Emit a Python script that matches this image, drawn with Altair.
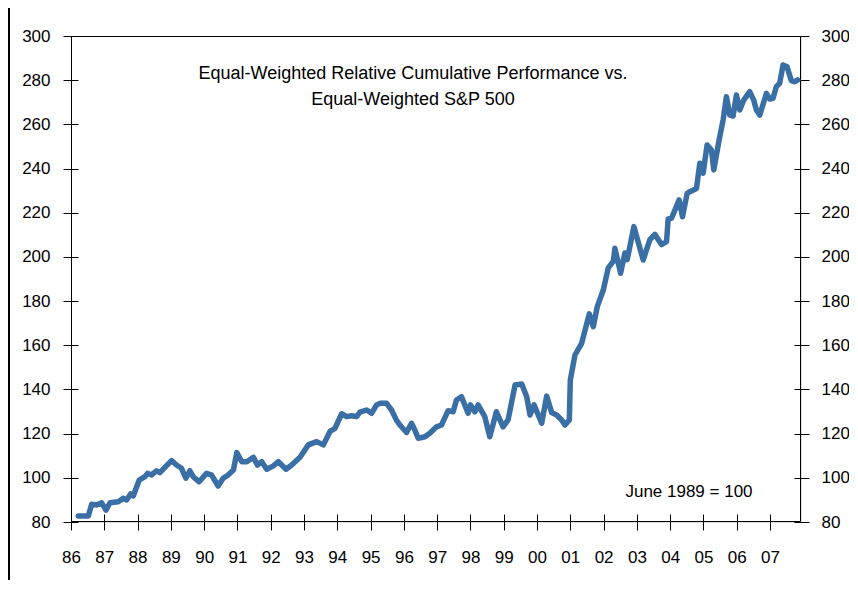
import altair as alt
import pandas as pd

# Decimal years and index values
years = [1986.22, 1986.52, 1986.62, 1986.77, 1986.92, 1987.05, 1987.17, 1987.42, 1987.57, 1987.67,
         1987.79, 1987.87, 1988.05, 1988.22, 1988.30, 1988.42, 1988.57, 1988.67, 1988.82, 1989.02,
         1989.17, 1989.32, 1989.45, 1989.57, 1989.67, 1989.85, 1990.07, 1990.22, 1990.42, 1990.57,
         1990.72, 1990.88, 1990.98, 1991.13, 1991.28, 1991.48, 1991.60, 1991.73, 1991.88, 1992.08,
         1992.23, 1992.33, 1992.46, 1992.63, 1992.88, 1993.13, 1993.38, 1993.58, 1993.78, 1993.93,
         1994.13, 1994.28, 1994.43, 1994.58, 1994.68, 1994.88, 1995.03, 1995.18, 1995.28, 1995.48,
         1995.63, 1995.78, 1995.88, 1996.08, 1996.23, 1996.33, 1996.43, 1996.63, 1996.78, 1996.98,
         1997.13, 1997.33, 1997.48, 1997.58, 1997.73, 1997.93, 1998.00, 1998.13, 1998.23, 1998.43,
         1998.58, 1998.78, 1998.98, 1999.13, 1999.34, 1999.54, 1999.69, 1999.79, 1999.91, 2000.04,
         2000.14, 2000.29, 2000.44, 2000.59, 2000.74, 2000.84, 2000.97, 2001.00, 2001.14, 2001.34,
         2001.57, 2001.69, 2001.81, 2001.99, 2002.14, 2002.29, 2002.34, 2002.51, 2002.64, 2002.71,
         2002.91, 2003.19, 2003.39, 2003.54, 2003.74, 2003.89, 2003.94, 2004.04, 2004.27, 2004.37,
         2004.51, 2004.59, 2004.79, 2004.89, 2004.99, 2005.11, 2005.24, 2005.31, 2005.47, 2005.59,
         2005.69, 2005.79, 2005.89, 2005.99, 2006.09, 2006.21, 2006.39, 2006.51, 2006.59, 2006.69,
         2006.89, 2006.99, 2007.09, 2007.19, 2007.29, 2007.39, 2007.51, 2007.64, 2007.73, 2007.83]
values = [82.7, 82.7, 88.0, 87.7, 88.7, 85.4, 88.7, 89.2, 90.7, 90.0,
          92.7, 91.8, 99.0, 100.5, 102.0, 101.3, 103.2, 102.3, 104.7, 107.8,
          105.8, 104.3, 99.8, 103.2, 100.5, 98.2, 102.0, 101.3, 96.3, 99.8,
          101.3, 103.5, 111.4, 107.3, 107.3, 109.3, 105.8, 107.3, 103.9, 105.4,
          107.3, 105.8, 103.9, 105.8, 109.3, 114.9, 116.4, 114.9, 121.0, 122.4,
          129.0, 127.7, 128.1, 127.7, 129.7, 130.7, 129.2, 133.0, 133.7, 133.7,
          130.7, 126.0, 123.9, 120.5, 124.7, 121.6, 117.9, 118.6, 120.2, 123.1,
          123.9, 130.4, 129.9, 135.2, 136.7, 129.2, 133.0, 129.9, 133.0, 127.7,
          118.6, 129.9, 123.1, 126.2, 142.0, 142.5, 136.7, 128.4, 133.0, 128.4,
          124.7, 137.0, 129.5, 128.4, 126.2, 123.9, 126.2, 144.3, 155.6, 160.9,
          174.2, 168.4, 177.5, 185.0, 195.0, 198.0, 203.9, 192.6, 201.8, 198.8,
          213.7, 198.6, 207.8, 210.2, 205.6, 206.9, 217.2, 217.5, 225.8, 218.2,
          228.8, 229.5, 231.0, 242.4, 237.9, 250.7, 248.4, 239.4, 252.9, 262.0,
          272.5, 264.2, 263.8, 273.3, 266.5, 271.0, 274.8, 271.0, 266.5, 264.2,
          274.0, 271.5, 271.8, 277.1, 278.6, 286.9, 286.1, 279.8, 279.3, 280.1]

year_ticks = list(range(1986, 2008))
y_ticks = list(range(80, 301, 20))
title_lines = ["Equal-Weighted Relative Cumulative Performance vs.", "Equal-Weighted S&P 500"]
note_text = "June 1989 = 100"

FONT = "Liberation Sans"
LINE_COLOR = "#3A6FA5"
W, H = 730, 486

df = pd.DataFrame({"year": years, "value": values})

x_scale = alt.Scale(domain=[1986, 2007.93], nice=False, zero=False)
y_scale = alt.Scale(domain=[80, 300], nice=False, zero=False)

x_axis = alt.Axis(values=year_ticks, labelExpr="slice(toString(datum.value), 2)",
                  grid=False, domain=False, offset=-8, tickSize=16, tickColor="black",
                  tickWidth=1, labelPadding=19, labelFontSize=17, labelFont=FONT,
                  labelColor="black", title=None, labelFlush=False, orient="bottom")

left_axis = alt.Axis(values=y_ticks, grid=False, domain=False, offset=-7, tickSize=15,
                     tickColor="black", tickWidth=1, labelPadding=13, labelFontSize=17,
                     labelFont=FONT, labelColor="black", title=None, orient="left")
right_axis = alt.Axis(values=y_ticks, grid=False, domain=False, offset=-7, tickSize=15,
                      tickColor="black", tickWidth=1, labelPadding=12, labelFontSize=17,
                      labelFont=FONT, labelColor="black", title=None, orient="right")

one = pd.DataFrame({"a": [0]})

frame = alt.Chart(one).mark_rect(fillOpacity=0, stroke="black", strokeWidth=1).encode(
    x=alt.value(0.5), x2=alt.value(W - 0.5), y=alt.value(0.5), y2=alt.value(H - 0.5)
)

line = alt.Chart(df).mark_line(color=LINE_COLOR, strokeWidth=5.5, strokeCap="round",
                               strokeJoin="round").encode(
    x=alt.X("year:Q", scale=x_scale, axis=x_axis),
    y=alt.Y("value:Q", scale=y_scale, axis=left_axis),
)

right = alt.Chart(df).mark_line(opacity=0).encode(
    x=alt.X("year:Q", scale=x_scale, axis=x_axis),
    y=alt.Y("value:Q", scale=y_scale, axis=right_axis),
)

title = alt.Chart(one).mark_text(
    text=title_lines, font=FONT, fontSize=18, color="black", align="center",
    baseline="alphabetic", lineHeight=26
).encode(x=alt.value(342), y=alt.value(43))

note = alt.Chart(one).mark_text(
    text=note_text, font=FONT, fontSize=17, color="black", align="center",
    baseline="alphabetic"
).encode(x=alt.value(618), y=alt.value(461))

border = alt.Chart(one).mark_rule(color="black", strokeWidth=2).encode(
    x=alt.value(-62), y=alt.value(-40), y2=alt.value(H + 120)
)

chart = alt.layer(frame, line, right, title, note, border).resolve_scale(y="independent").properties(
    width=W, height=H,
    autosize=alt.AutoSizeParams(type="none"),
    padding={"left": 63, "top": 28, "right": 48, "bottom": 58},
).configure_view(stroke=None).configure(background="white")

chart.save("out.html", embed_options={"renderer": "svg", "actions": False})
